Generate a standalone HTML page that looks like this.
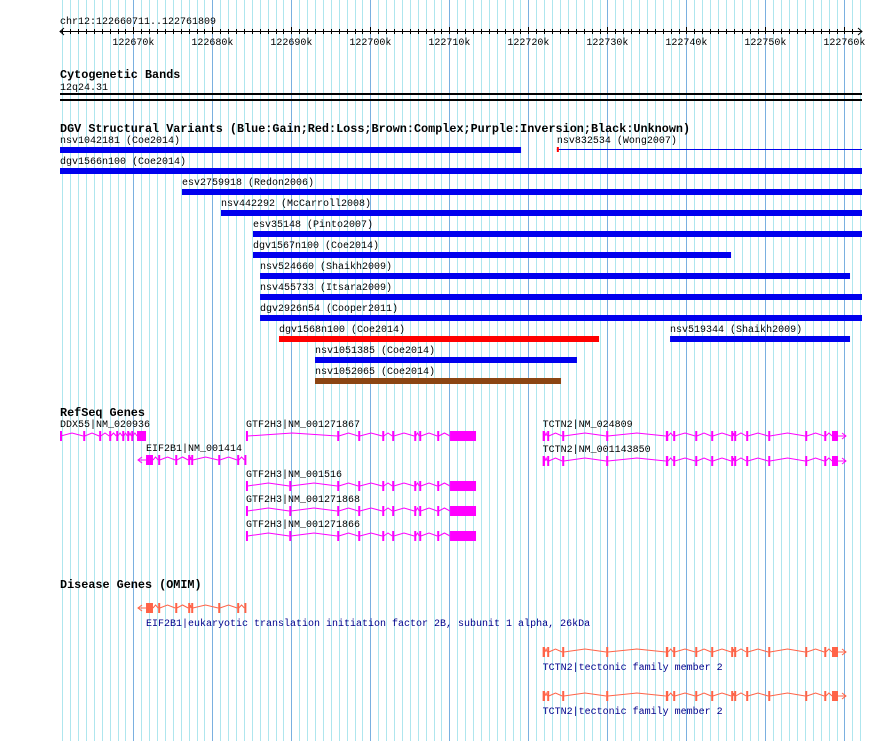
<!DOCTYPE html>
<html><head><meta charset="utf-8"><style>
html,body{margin:0;padding:0;background:#fff;}
svg{display:block;font-family:"Liberation Mono",monospace;}
</style></head><body>
<svg id="c" width="890" height="741" xmlns="http://www.w3.org/2000/svg"></svg>
<script>
// ---- data (kb offsets within chr12:122,xxx,xxx) ----
const regionStart = 660.711, regionEnd = 761.809;
const tickLabels = [670,680,690,700,710,720,730,740,750,760];
const variantNames = ["nsv1042181 (Coe2014)","nsv832534 (Wong2007)","dgv1566n100 (Coe2014)","esv2759918 (Redon2006)","nsv442292 (McCarroll2008)","esv35148 (Pinto2007)","dgv1567n100 (Coe2014)","nsv524660 (Shaikh2009)","nsv455733 (Itsara2009)","dgv2926n54 (Cooper2011)","dgv1568n100 (Coe2014)","nsv519344 (Shaikh2009)","nsv1051385 (Coe2014)","nsv1052065 (Coe2014)"];
const variantStarts = [660.711,723.6,660.711,676.15,681.09,685.14,685.14,686.03,686.03,686.03,688.43,737.93,692.99,692.99];
const variantEnds   = [719.07,762.3,762.3,762.3,762.3,762.3,745.65,760.71,762.3,762.3,728.94,760.71,726.15,724.13];
const variantTypes  = ["gain","thin","gain","gain","gain","gain","gain","gain","gain","gain","loss","gain","gain","complex"];
const variantRows   = [0,0,1,2,3,4,5,6,7,8,9,9,10,11];
const gtfExonsA = [[684.25,684.45],[695.8,696.0],[698.46,698.66],[701.5,701.7],[702.76,702.96],[705.55,705.75],[706.18,706.38],[708.46,708.66],[710.08,713.37]];
const gtfExonsB = [[684.25,684.45],[689.73,689.93],[695.8,696.0],[698.46,698.66],[701.5,701.7],[702.76,702.96],[705.55,705.75],[706.18,706.38],[708.46,708.66],[710.08,713.37]];
const ddxExons = [[660.711,660.8],[663.65,663.85],[665.67,665.87],[666.94,667.14],[667.83,668.03],[668.59,668.79],[669.22,669.42],[669.73,669.93],[670.46,671.6]];
const eifExons = [[671.6,672.48],[673.14,673.34],[675.3,675.5],[676.94,677.14],[677.32,677.52],[680.74,680.94],[683.14,683.34],[684.05,684.25]];
const tctnExons = [[721.8,722.1],[722.38,722.58],[724.28,724.48],[729.85,730.05],[737.4,737.7],[738.33,738.53],[741.12,741.32],[743.14,743.34],[745.67,745.87],[746.05,746.25],[747.57,747.77],[750.36,750.56],[755.04,755.24],[757.45,757.65],[758.43,759.19]];
const genes = [
 {name:"DDX55|NM_020936",exons:ddxExons,y:436,lx:60,dir:0},
 {name:"EIF2B1|NM_001414",exons:eifExons,y:460,lx:146,dir:-1,s:670.58},
 {name:"GTF2H3|NM_001271867",exons:gtfExonsA,y:436,dir:0},
 {name:"GTF2H3|NM_001516",exons:gtfExonsB,y:486,dir:0},
 {name:"GTF2H3|NM_001271868",exons:gtfExonsB,y:511,dir:0},
 {name:"GTF2H3|NM_001271866",exons:gtfExonsB,y:536,dir:0},
 {name:"TCTN2|NM_024809",exons:tctnExons,y:436,dir:1,e:760.2},
 {name:"TCTN2|NM_001143850",exons:tctnExons,y:461,dir:1,e:760.2}
];
const omim = [
 {name:"EIF2B1|eukaryotic translation initiation factor 2B, subunit 1 alpha, 26kDa",exons:eifExons,y:608,lx:146,dir:-1,s:670.58},
 {name:"TCTN2|tectonic family member 2",exons:tctnExons,y:652,dir:1,e:760.2},
 {name:"TCTN2|tectonic family member 2",exons:tctnExons,y:696,dir:1,e:760.2}
];
// ---- drawing ----
const svg=document.getElementById('c');const NS="http://www.w3.org/2000/svg";
const X0=60,X1=858.7;
function xs(kb){return X0+(kb-regionStart)/(regionEnd-regionStart)*(X1-X0);}
function mk(t,a,p){const e=document.createElementNS(NS,t);for(const k in a)e.setAttribute(k,a[k]);(p||svg).appendChild(e);return e;}
function txt(s,x,y,a,p){const e=mk('text',Object.assign({x:x,y:y,'font-size':10,fill:'#000'},a||{}),p);e.textContent=s;return e;}
// grid
const grid=mk('g',{});


for(let k=Math.ceil(regionStart);k<=762;k++){const x=Math.round(xs(k))+0.5;if(x>862)break;
 mk('line',{x1:x,x2:x,y1:0,y2:741,stroke:k%10==0?'#7ab0e0':'#aee6ee','stroke-width':1},grid);}
// ruler
const t1=txt("chr12:122660711..122761809",60,24);

mk('line',{x1:60,x2:862,y1:31.5,y2:31.5,stroke:'#000'});
mk('path',{d:'M64 28 L60 31.5 L64 35',stroke:'#000',fill:'none'});
mk('path',{d:'M858 28 L862 31.5 L858 35',stroke:'#000',fill:'none'});
for(let k=661;k<=761;k++){const x=Math.round(xs(k))+0.5;
 mk('line',{x1:x,x2:x,y1:k%10==0?27:29,y2:34,stroke:'#000'});}
tickLabels.forEach(v=>{const t=txt('122'+v+'k',xs(v),45,{'text-anchor':'middle'});
 });
// headers
function hdr(s,y,n){const t=txt(s,60,y,{'font-weight':'bold','font-size':11.8});}
hdr("Cytogenetic Bands",78,'cytoband-title');
const cb=txt("12q24.31",60,90);
mk('rect',{x:60,y:93,width:802,height:2,fill:'#000'});
mk('rect',{x:60,y:99,width:802,height:2,fill:'#000'});
hdr("DGV Structural Variants (Blue:Gain;Red:Loss;Brown:Complex;Purple:Inversion;Black:Unknown)",132,'dgv-title');
hdr("RefSeq Genes",416,'refseq-title');
hdr("Disease Genes (OMIM)",588,'omim-title');
// variants
const colors={gain:'#0000ee',loss:'#ff0000',complex:'#8b4513'};
variantNames.forEach((n,i)=>{const y=147+variantRows[i]*21;const x1=xs(variantStarts[i]);const x2=Math.min(862,xs(variantEnds[i]));
 const g=mk('g',{});
 
 
 txt(n,x1,y-4,{},g);
 if(variantTypes[i]=='thin'){mk('line',{x1:x1,x2:x2,y1:y+2.5,y2:y+2.5,stroke:'#0000ee'},g);mk('rect',{x:x1,y:y,width:2,height:5,fill:'#ff0000'},g);}
 else mk('rect',{x:x1,y:y,width:x2-x1,height:6,fill:colors[variantTypes[i]]},g);
});
// genes
function drawGene(G,col,labelCol,labelBelow,name){
 const g=mk('g',{});
 
 
 const ex=G.exons,y=G.y;
 if(G.dir<0){const s=xs(G.s);mk('path',{d:`M${s} ${y} L${xs(ex[0][0])} ${y} M${s+4} ${y-3} L${s} ${y} L${s+4} ${y+3}`,stroke:col,fill:'none'},g);}
 if(G.dir>0){const e=xs(G.e),l=xs(ex[ex.length-1][1]);mk('path',{d:`M${l} ${y} L${e} ${y} M${e-4} ${y-3} L${e} ${y} L${e-4} ${y+3}`,stroke:col,fill:'none'},g);}
 for(let i=0;i<ex.length-1;i++){const a=xs(ex[i][1]),b=xs(ex[i+1][0]),m=(a+b)/2;
  mk('polyline',{points:`${a},${y} ${m},${y-3} ${b},${y}`,stroke:col,fill:'none'},g);}
 ex.forEach(e=>{const a=xs(e[0]),b=xs(e[1]);mk('rect',{x:a,y:y-5,width:Math.max(2,b-a),height:10,fill:col},g);});
 const lx=G.lx!==undefined?G.lx:xs(G.s!==undefined?G.s:ex[0][0]);
 txt(G.name,Math.max(60,lx),labelBelow?y+18:y-9,{fill:labelCol},g);
}
genes.forEach(G=>drawGene(G,'#ff00ff','#000',false,'gene-'+G.name.split('|')[1].toLowerCase()));
omim.forEach((G,i)=>drawGene(G,'#ff6347','#00008b',true,'omim-gene-'+i));
</script>
</body></html>
